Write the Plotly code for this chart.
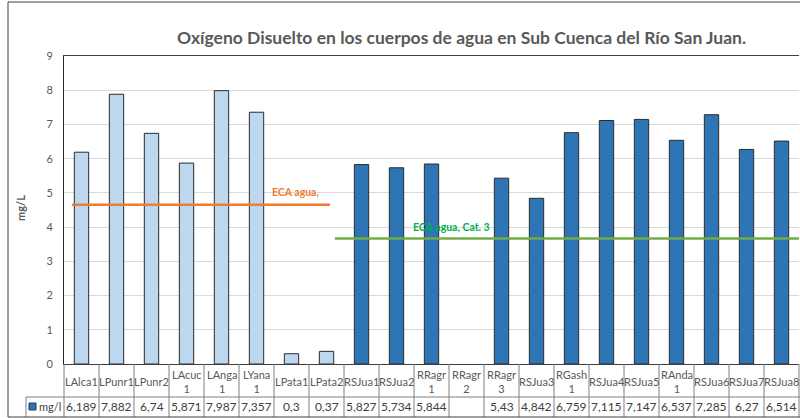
import plotly.graph_objects as go

# ---- data ----
categories = ["LAlca1", "LPunr1", "LPunr2", "LAcuc<br>1", "LAnga<br>1", "LYana<br>1",
              "LPata1", "LPata2", "RSJua1", "RSJua2", "RRagr<br>1", "RRagr<br>2",
              "RRagr<br>3", "RSJua3", "RGash<br>1", "RSJua4", "RSJua5", "RAnda<br>1",
              "RSJua6", "RSJua7", "RSJua8"]
values = [6.189, 7.882, 6.74, 5.871, 7.987, 7.357, 0.3, 0.37, 5.827, 5.734, 5.844,
          None, 5.43, 4.842, 6.759, 7.115, 7.147, 6.537, 7.285, 6.27, 6.514]
value_labels = ["6,189", "7,882", "6,74", "5,871", "7,987", "7,357", "0,3", "0,37",
                "5,827", "5,734", "5,844", "", "5,43", "4,842", "6,759", "7,115",
                "7,147", "6,537", "7,285", "6,27", "6,514"]
group = ["lago"] * 8 + ["rio"] * 13
eca_lagos = 4.65
eca_rios = 3.67
y_ticks = list(range(0, 10))

title = "Oxígeno Disuelto en los cuerpos de agua en Sub Cuenca del Río San Juan."
series_name = "mg/l"

# ---- layout geometry (pixels) ----
W, H = 800, 418
L, R, T, B = 64, 1, 56, 54
PW = W - L - R
PH = H - T - B
Y0 = H - B  # pixel of y=0

def px(p):
    return (p - L) / PW

def py(p):
    return (Y0 - p) / PH

FONT = "Lato"
GRAY = "#595959"
LIGHT = "#BDD7EE"
DARK = "#2E75B6"

xs = list(range(len(categories)))
colors = [LIGHT if g == "lago" else DARK for g in group]

fig = go.Figure()
fig.add_trace(go.Bar(
    x=xs, y=values, width=0.41,
    marker=dict(color=colors, line=dict(color="#2b2b2b", width=1)),
    name=series_name, showlegend=False, hoverinfo="y",
))

shapes = []
# ECA lines
shapes.append(dict(type="line", xref="x", yref="y", x0=-0.27, x1=7.1,
                   y0=eca_lagos, y1=eca_lagos, line=dict(color="#ED7D31", width=2.5)))
shapes.append(dict(type="line", xref="x", yref="y", x0=7.24, x1=20.5,
                   y0=eca_rios, y1=eca_rios, line=dict(color="#70AD47", width=2.5)))

# data table lines
cw = PW / len(categories)
row1_bot = 397
row2_bot = 417
tbl_line = "#7f7f7f"
for k in range(len(categories) + 1):
    xk = L + cw * k
    shapes.append(dict(type="line", xref="paper", yref="paper",
                       x0=px(xk), x1=px(xk), y0=py(Y0), y1=py(row2_bot),
                       line=dict(color=tbl_line, width=1)))
# legend cell left border
shapes.append(dict(type="line", xref="paper", yref="paper",
                   x0=px(26), x1=px(26), y0=py(row1_bot), y1=py(row2_bot),
                   line=dict(color=tbl_line, width=1)))
shapes.append(dict(type="line", xref="paper", yref="paper",
                   x0=px(26), x1=px(W), y0=py(row1_bot), y1=py(row1_bot),
                   line=dict(color=tbl_line, width=1)))
# outer chart border
shapes.append(dict(type="rect", xref="paper", yref="paper",
                   x0=px(8), x1=px(W + 5), y0=py(2), y1=py(417),
                   line=dict(color="#404040", width=1)))
# legend key
shapes.append(dict(type="rect", xref="paper", yref="paper",
                   x0=px(29), x1=px(36), y0=py(403), y1=py(410),
                   fillcolor=DARK, line=dict(color="#1f3f66", width=1)))

annotations = []
for i, (c, v) in enumerate(zip(categories, value_labels)):
    annotations.append(dict(x=i, xref="x", y=py(381), yref="paper", text=c,
                            showarrow=False, xanchor="center", yanchor="middle",
                            font=dict(family=FONT, size=11, color=GRAY)))
    annotations.append(dict(x=i, xref="x", y=py(406.5), yref="paper", text=v,
                            showarrow=False, xanchor="center", yanchor="middle",
                            font=dict(family=FONT, size=12, color="#404040")))
annotations.append(dict(x=px(37), xref="paper", y=py(406.5), yref="paper",
                        text=series_name, showarrow=False, xanchor="left",
                        yanchor="middle", font=dict(family=FONT, size=11, color="#404040")))
annotations.append(dict(x=px(461), xref="paper", y=py(38), yref="paper",
                        text="<b>" + title + "</b>", showarrow=False,
                        xanchor="center", yanchor="middle",
                        font=dict(family=FONT, size=17.5, color=GRAY)))
annotations.append(dict(x=px(20), xref="paper", y=py(208), yref="paper",
                        text="<b>mg/L</b>", textangle=-90, showarrow=False,
                        xanchor="center", yanchor="middle",
                        font=dict(family=FONT, size=11, color=GRAY)))
annotations.append(dict(x=px(270), xref="paper", y=py(192), yref="paper",
                        text="<b>ECA agua,</b>", showarrow=False,
                        xanchor="left", yanchor="middle",
                        font=dict(family=FONT, size=10.5, color="#ED7D31")))
annotations.append(dict(x=px(411), xref="paper", y=py(227), yref="paper",
                        text="<b>ECA agua, Cat. 3</b>", showarrow=False,
                        xanchor="left", yanchor="middle",
                        font=dict(family=FONT, size=10.5, color="#00B050")))

fig.update_layout(
    width=W, height=H,
    margin=dict(l=L, r=R, t=T, b=B),
    paper_bgcolor="white", plot_bgcolor="white",
    shapes=shapes, annotations=annotations,
    bargap=0.59,
    font=dict(family=FONT, color=GRAY),
)
fig.update_xaxes(range=[-0.5, len(categories) - 0.5], showticklabels=False,
                 showgrid=False, showline=True, mirror=True,
                 linecolor="#404040", linewidth=1, zeroline=False, fixedrange=True)
fig.update_yaxes(range=[0, 9], tickvals=y_ticks, ticks="outside", ticklen=8,
                 tickcolor="rgba(0,0,0,0)", showgrid=True, gridcolor="#D9D9D9",
                 gridwidth=1, showline=True, linecolor="#262626", linewidth=1,
                 zeroline=False, tickfont=dict(family=FONT, size=11, color=GRAY),
                 fixedrange=True)

fig.write_html("out.html", config={"displayModeBar": False},
               post_script="document.body.style.margin='0px';")
